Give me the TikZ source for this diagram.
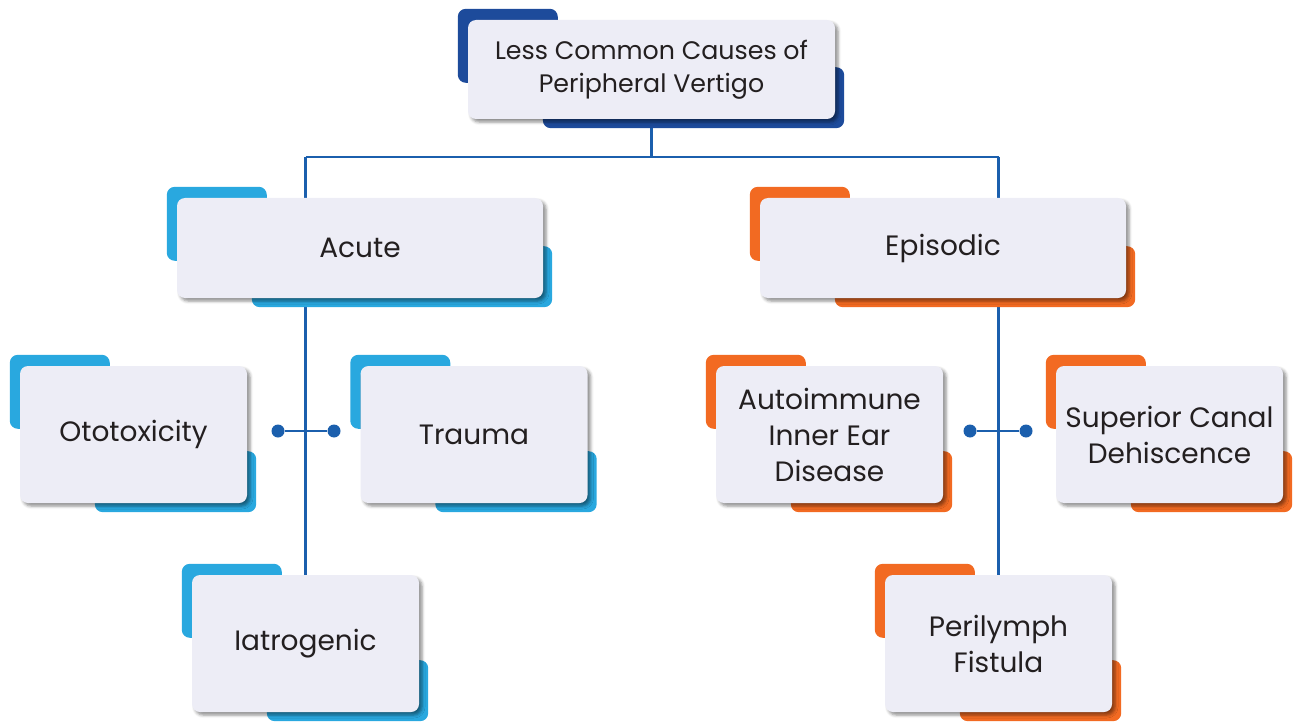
\documentclass[tikz,border=0pt]{standalone}
\usepackage{fontspec}
\setmainfont{Poppins}
\usetikzlibrary{shadows.blur}

\definecolor{navy}{HTML}{1D4B9B}
\definecolor{sky}{HTML}{29A8DF}
\definecolor{tangerine}{HTML}{F26A22}
\definecolor{wire}{HTML}{1B5FAD}
\definecolor{cardfill}{HTML}{EDEDF6}
\definecolor{ink}{HTML}{231F20}

\pgfdeclarelayer{connlayer}
\pgfdeclarelayer{accentlayer}
\pgfsetlayers{connlayer,accentlayer,main}

% two coloured tabs behind a card: one at the top-left, one at the bottom-right
\newcommand\cardback[2]{%
  \begin{pgfonlayer}{accentlayer}
    \fill[#2, rounded corners=8pt] ([shift={(-10pt,11pt)}]#1.north west) rectangle ([shift={(90pt,-63pt)}]#1.north west);
    \fill[#2, rounded corners=8pt] ([shift={(75pt,52pt)}]#1.south west) rectangle ([shift={(9pt,-9pt)}]#1.south east);
  \end{pgfonlayer}}

\tikzset{
  card/.style={fill=cardfill, rounded corners=8pt, inner sep=0pt, align=center,
    text=ink, font=\fontsize{28}{36}\selectfont,
    blur shadow={shadow xshift=3pt, shadow yshift=-3pt, shadow blur radius=3pt, shadow opacity=45}},
  widecard/.style={card, minimum width=366pt, minimum height=100pt},
  smallcard/.style={card, minimum width=227pt, minimum height=137pt},
  conn/.style={draw=wire, line width=2.2pt},
  dot/.style={circle, fill=wire, inner sep=0pt, minimum size=13pt}
}

\begin{document}
\begin{tikzpicture}[x=1pt,y=-1pt]
\useasboundingbox (0,0) rectangle (1295,722);

% cards
\node[widecard, minimum width=367pt, minimum height=99pt, font=\fontsize{25.3}{33}\selectfont] (top) at (651.5,69.5) {Less Common Causes of\\Peripheral Vertigo};
\node[widecard] (acute) at (360,248) {Acute};
\node[widecard] (episodic) at (943,248) {Episodic};
\node[smallcard] (ototox) at (133.5,434.5) {Ototoxicity};
\node[smallcard] (trauma) at (474,434.5) {Trauma};
\node[smallcard] (iatro) at (305.5,643.5) {Iatrogenic};
\node[smallcard] (autoimm) at (829.5,434.5) {Autoimmune\\Inner Ear\\Disease};
\node[smallcard] (scd) at (1169.5,434.5) {Superior Canal\\Dehiscence};
\node[smallcard] (peri) at (998.5,643.5) {Perilymph\\Fistula};

% coloured tabs
\cardback{top}{navy}
\cardback{acute}{sky}
\cardback{ototox}{sky}
\cardback{trauma}{sky}
\cardback{iatro}{sky}
\cardback{episodic}{tangerine}
\cardback{autoimm}{tangerine}
\cardback{scd}{tangerine}
\cardback{peri}{tangerine}

% connectors
\begin{pgfonlayer}{connlayer}
  \coordinate (bus) at (651.5,157);
  \coordinate (busL) at (iatro.north |- bus);
  \coordinate (busR) at (peri.north |- bus);
  \draw[conn] (top.south) -- (bus);
  \draw[conn] (busL) -- (busR);
  \draw[conn] (busL) -- (iatro.north);
  \draw[conn] (busR) -- (peri.north);
\end{pgfonlayer}

% paired links between side-by-side cards
\node[dot] (dl1) at (278,431) {};
\node[dot] (dl2) at (334,431) {};
\draw[conn] (dl1) -- (dl2);
\node[dot] (dr1) at (970,431) {};
\node[dot] (dr2) at (1026,431) {};
\draw[conn] (dr1) -- (dr2);
\end{tikzpicture}
\end{document}
